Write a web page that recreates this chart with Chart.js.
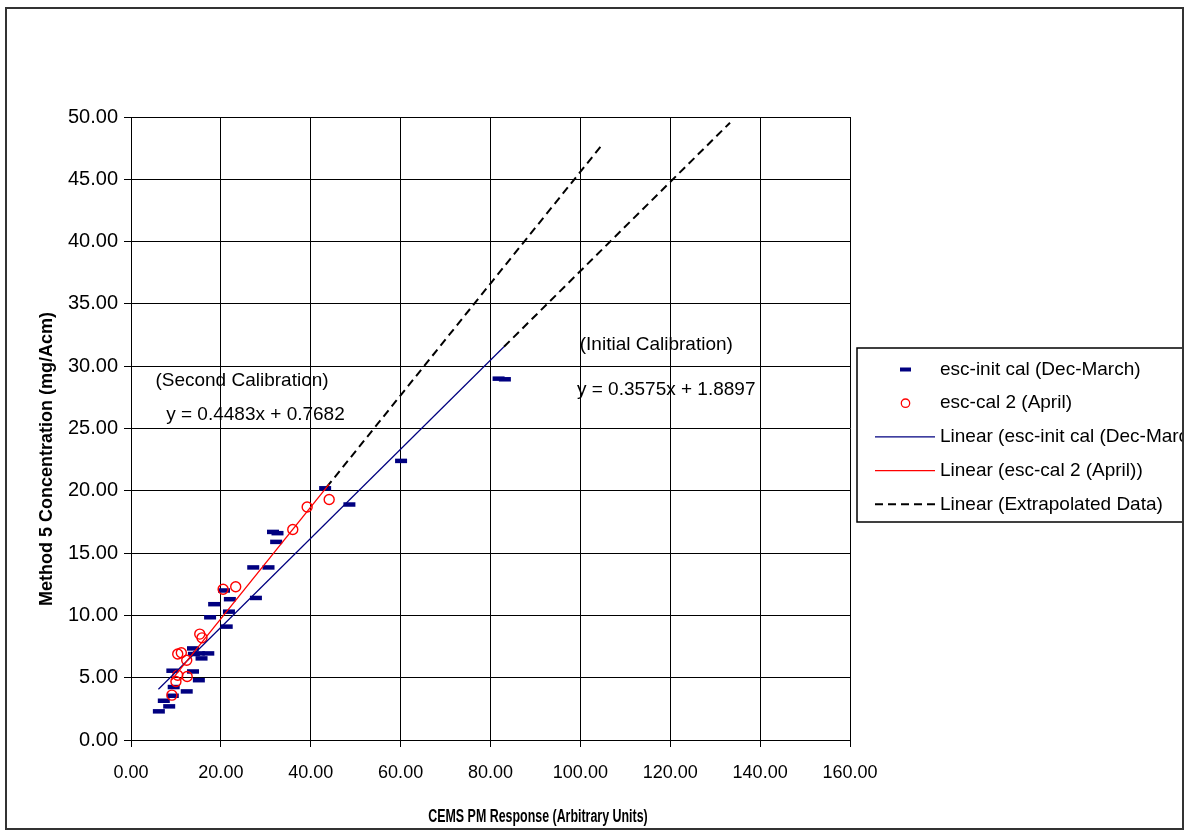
<!DOCTYPE html>
<html>
<head>
<meta charset="utf-8">
<title>Method 5 vs CEMS PM Response</title>
<script src="https://cdn.jsdelivr.net/npm/chart.js@4.4.0/dist/chart.umd.min.js"></script>
<style>
  html, body { margin: 0; padding: 0; background: #fff; }
</style>
</head>
<body>
<canvas id="mycanvas" width="1187" height="831"></canvas>
<script>
// esc-init cal (Dec-March)
var initX = [6.2, 7.3, 8.5, 9.3, 9.5, 9.2, 12.4, 13.8, 15.1, 13.8, 15.1, 17.2, 15.7, 14.0, 17.6, 18.5, 20.7, 21.3, 21.8, 22.0, 27.2, 27.8, 30.6, 31.6, 32.6, 32.3, 43.2, 48.6, 60.1, 81.8, 83.2];
var initY = [2.3, 3.15, 2.7, 3.55, 4.25, 5.56, 3.9, 5.5, 4.8, 7.35, 6.95, 6.95, 6.55, 6.9, 9.85, 10.9, 12.0, 9.1, 10.3, 11.3, 13.85, 11.4, 13.85, 16.7, 16.6, 15.9, 20.2, 18.9, 22.4, 29.0, 28.95];

// esc-cal 2 (April)
var cal2X = [9.1, 10.0, 10.4, 12.5, 10.4, 11.2, 12.4, 15.3, 15.8, 20.5, 23.3, 36.0, 39.2, 44.1];
var cal2Y = [3.6, 4.7, 5.2, 5.1, 6.9, 7.0, 6.4, 8.5, 8.2, 12.1, 12.3, 16.9, 18.7, 19.3];

// trend line end points
var initFitX = [6.1, 83.0];
var initFitY = [4.07, 31.56];
var cal2FitX = [9.05, 44.1];
var cal2FitY = [4.83, 20.54];
var extrap2X = [43.5, 104.5];
var extrap2Y = [20.27, 47.62];
var extrapInitX = [83.0, 133.3];
var extrapInitY = [31.56, 49.54];

var xTicks = [0, 20, 40, 60, 80, 100, 120, 140, 160];
var yTicks = [0, 5, 10, 15, 20, 25, 30, 35, 40, 45, 50];

var labels = ['esc-init cal (Dec-March)', 'esc-cal 2 (April)', 'Linear (esc-init cal (Dec-March))', 'Linear (esc-cal 2 (April))', 'Linear (Extrapolated Data)'];
var notes = ['(Second Calibration)', 'y = 0.4483x + 0.7682', '(Initial Calibration)', 'y = 0.3575x + 1.8897'];
var xTitle = 'CEMS PM Response (Arbitrary Units)';
var yTitle = 'Method 5 Concentration (mg/Acm)';

function pts(xs, ys) {
	var out = [];
	for (var i in xs) {
		out.push({x: xs[i], y: ys[i]});
	}
	return out;
}

var FONT = "'Liberation Sans', Arial, sans-serif";

var chartdata = {
	datasets: [
		{
			label: labels[0],
			data: pts(initX, initY),
			pointStyle: 'line',
			pointRadius: 6,
			borderWidth: 4.5,
			borderColor: '#000080',
			backgroundColor: '#000080',
			showLine: false,
			order: 6
		},
		{
			label: labels[1],
			data: pts(cal2X, cal2Y),
			pointStyle: 'circle',
			pointRadius: 5,
			borderWidth: 1.4,
			borderColor: '#ff0000',
			backgroundColor: 'rgba(0,0,0,0)',
			showLine: false,
			order: 5
		},
		{
			label: labels[2],
			data: pts(initFitX, initFitY),
			showLine: true,
			pointRadius: 0,
			borderWidth: 1.2,
			borderColor: '#000080',
			order: 2
		},
		{
			label: labels[3],
			data: pts(cal2FitX, cal2FitY),
			showLine: true,
			pointRadius: 0,
			borderWidth: 1.3,
			borderColor: '#ff0000',
			order: 1
		},
		{
			label: labels[4],
			data: pts(extrap2X, extrap2Y),
			showLine: true,
			pointRadius: 0,
			borderWidth: 2,
			borderDash: [8, 5],
			borderColor: '#000000',
			order: 3
		},
		{
			label: labels[4],
			hideInLegend: true,
			data: pts(extrapInitX, extrapInitY),
			showLine: true,
			pointRadius: 0,
			borderWidth: 2,
			borderDash: [8, 5],
			borderColor: '#000000',
			order: 4
		}
	]
};

// white page, annotations, axis titles, legend and outer frame
var extras = {
	id: 'extras',
	beforeDraw: function(chart) {
		var ctx = chart.ctx;
		ctx.save();
		ctx.fillStyle = '#fff';
		ctx.fillRect(0, 0, chart.width, chart.height);
		ctx.restore();
	},
	afterDraw: function(chart) {
		var ctx = chart.ctx;
		var xs = chart.scales.x, ys = chart.scales.y;
		ctx.save();
		ctx.fillStyle = '#000';
		ctx.font = '19px ' + FONT;
		ctx.textAlign = 'center';
		ctx.textBaseline = 'middle';
		ctx.fillText(notes[0], xs.getPixelForValue(24.7), ys.getPixelForValue(28.8));
		ctx.fillText(notes[1], xs.getPixelForValue(27.7), ys.getPixelForValue(26.1));
		ctx.fillText(notes[2], xs.getPixelForValue(116.9), ys.getPixelForValue(31.7));
		ctx.fillText(notes[3], xs.getPixelForValue(119.1), ys.getPixelForValue(28.1));

		// x axis title, drawn condensed like the original
		ctx.save();
		ctx.translate(538, 817);
		ctx.scale(0.69, 1);
		ctx.font = 'bold 18px ' + FONT;
		ctx.fillText(xTitle, 0, 0);
		ctx.restore();

		// y axis title
		ctx.save();
		ctx.translate(47, 459);
		ctx.rotate(-Math.PI / 2);
		ctx.font = 'bold 18px ' + FONT;
		ctx.fillText(yTitle, 0, 0);
		ctx.restore();

		// legend
		var lx = 857, ly = 348, lh = 174;
		ctx.beginPath();
		ctx.rect(0, 0, 1183, chart.height);
		ctx.clip();
		ctx.fillStyle = '#fff';
		ctx.fillRect(lx, ly, 400, lh);
		ctx.strokeStyle = '#000';
		ctx.lineWidth = 1.5;
		ctx.strokeRect(lx, ly, 400, lh);
		ctx.textAlign = 'left';
		var row = 0;
		chart.data.datasets.forEach(function(ds) {
			if (ds.hideInLegend) return;
			var cy = 369.5 + row * 33.7;
			ctx.save();
			if (ds.showLine) {
				ctx.strokeStyle = ds.borderColor;
				ctx.lineWidth = ds.borderWidth > 1.5 ? 2 : 1.3;
				ctx.setLineDash(ds.borderDash || []);
				ctx.beginPath();
				ctx.moveTo(875, cy);
				ctx.lineTo(935, cy);
				ctx.stroke();
			} else if (ds.pointStyle === 'line') {
				ctx.strokeStyle = ds.borderColor;
				ctx.lineWidth = 4;
				ctx.beginPath();
				ctx.moveTo(900, cy);
				ctx.lineTo(911, cy);
				ctx.stroke();
			} else {
				ctx.strokeStyle = ds.borderColor;
				ctx.lineWidth = 1.3;
				ctx.beginPath();
				ctx.arc(905.5, cy, 4.2, 0, Math.PI * 2);
				ctx.stroke();
			}
			ctx.restore();
			ctx.fillStyle = '#000';
			ctx.fillText(ds.label, 940, cy);
			row++;
		});
		ctx.restore();

		// outer frame
		ctx.save();
		ctx.strokeStyle = '#333';
		ctx.lineWidth = 2;
		ctx.strokeRect(6, 8, 1177, 821);
		ctx.restore();
	}
};

var ctx = document.getElementById('mycanvas');

var chart = new Chart(ctx, {
	type: 'scatter',
	data: chartdata,
	plugins: [extras],
	options: {
		responsive: false,
		animation: false,
		devicePixelRatio: 1,
		layout: { padding: { left: 0, top: 117, right: 337, bottom: 0 } },
		plugins: {
			legend: { display: false },
			tooltip: { enabled: false }
		},
		scales: {
			x: {
				type: 'linear',
				min: 0,
				max: 160,
				afterBuildTicks: function(s) { s.ticks = xTicks.map(function(v) { return {value: v}; }); },
				afterFit: function(s) { s.height = 91; },
				grid: { color: '#000', lineWidth: 1, tickLength: 7, drawTicks: true },
				border: { color: '#000', width: 1 },
				ticks: {
					color: '#000',
					padding: 15,
					maxRotation: 0,
					font: { family: FONT, size: 18 },
					callback: function(v) { return v.toFixed(2); }
				}
			},
			y: {
				type: 'linear',
				min: 0,
				max: 50,
				afterBuildTicks: function(s) { s.ticks = yTicks.map(function(v) { return {value: v}; }); },
				afterFit: function(s) { s.width = 131; },
				grid: { color: '#000', lineWidth: 1, tickLength: 7, drawTicks: true },
				border: { color: '#000', width: 1 },
				ticks: {
					color: '#000',
					padding: 6,
					font: { family: FONT, size: 20 },
					callback: function(v) { return v.toFixed(2); }
				}
			}
		}
	}
});
</script>
</body>
</html>
